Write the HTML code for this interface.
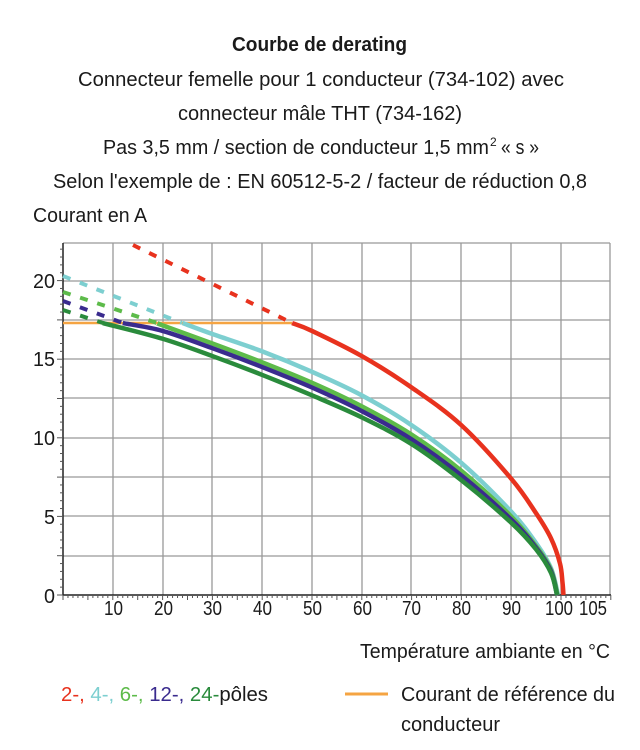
<!DOCTYPE html>
<html><head><meta charset="utf-8"><style>
html,body{margin:0;padding:0;background:#fff}
svg{display:block}
text{font-family:"Liberation Sans Narrow","Liberation Sans",sans-serif;fill:#1a1a1a;font-size:20px}
</style></head><body>
<svg width="640" height="750" viewBox="0 0 640 750" xmlns="http://www.w3.org/2000/svg">
<text x="232" y="51" font-weight="bold" textLength="175" lengthAdjust="spacingAndGlyphs">Courbe de derating</text>
<text x="78" y="86" textLength="486" lengthAdjust="spacingAndGlyphs">Connecteur femelle pour 1 conducteur (734-102) avec</text>
<text x="178" y="120" textLength="284" lengthAdjust="spacingAndGlyphs">connecteur mâle THT (734-162)</text>
<text x="103" y="154" textLength="386" lengthAdjust="spacingAndGlyphs">Pas 3,5 mm / section de conducteur 1,5 mm</text>
<text x="490" y="146" style="font-size:12px">2</text>
<text x="501" y="154" textLength="38" lengthAdjust="spacingAndGlyphs">« s »</text>
<text x="53" y="188" textLength="534" lengthAdjust="spacingAndGlyphs">Selon l'exemple de : EN 60512-5-2 / facteur de réduction 0,8</text>
<text x="33" y="222" textLength="114" lengthAdjust="spacingAndGlyphs">Courant en A</text>

<g stroke="#999" stroke-width="1.3">
<line x1="63" y1="243" x2="610" y2="243"/>
<line x1="63" y1="281" x2="610" y2="281"/>
<line x1="63" y1="320" x2="610" y2="320"/>
<line x1="63" y1="359" x2="610" y2="359"/>
<line x1="63" y1="398" x2="610" y2="398"/>
<line x1="63" y1="438" x2="610" y2="438"/>
<line x1="63" y1="477" x2="610" y2="477"/>
<line x1="63" y1="516" x2="610" y2="516"/>
<line x1="63" y1="556" x2="610" y2="556"/>
<line x1="113" y1="243" x2="113" y2="595"/>
<line x1="163" y1="243" x2="163" y2="595"/>
<line x1="212" y1="243" x2="212" y2="595"/>
<line x1="262" y1="243" x2="262" y2="595"/>
<line x1="312" y1="243" x2="312" y2="595"/>
<line x1="362" y1="243" x2="362" y2="595"/>
<line x1="411" y1="243" x2="411" y2="595"/>
<line x1="461" y1="243" x2="461" y2="595"/>
<line x1="511" y1="243" x2="511" y2="595"/>
<line x1="561" y1="243" x2="561" y2="595"/>
<line x1="610" y1="243" x2="610" y2="595"/>
</g>
<g stroke="#222" stroke-width="1.5">
<line x1="63" y1="243" x2="63" y2="595"/>
<line x1="63" y1="595" x2="611" y2="595"/>
</g>
<g id="yt" stroke="#555" stroke-width="1"></g>
<g id="xt" stroke="#555" stroke-width="1"></g>

<g>
<text x="44" y="603" textLength="11" lengthAdjust="spacingAndGlyphs">0</text>
<text x="44" y="524" textLength="11" lengthAdjust="spacingAndGlyphs">5</text>
<text x="33" y="445" textLength="22" lengthAdjust="spacingAndGlyphs">10</text>
<text x="33" y="366" textLength="22" lengthAdjust="spacingAndGlyphs">15</text>
<text x="33" y="288" textLength="22" lengthAdjust="spacingAndGlyphs">20</text>
<text x="104" y="615" textLength="19" lengthAdjust="spacingAndGlyphs">10</text>
<text x="154" y="615" textLength="19" lengthAdjust="spacingAndGlyphs">20</text>
<text x="203" y="615" textLength="19" lengthAdjust="spacingAndGlyphs">30</text>
<text x="253" y="615" textLength="19" lengthAdjust="spacingAndGlyphs">40</text>
<text x="303" y="615" textLength="19" lengthAdjust="spacingAndGlyphs">50</text>
<text x="353" y="615" textLength="19" lengthAdjust="spacingAndGlyphs">60</text>
<text x="402" y="615" textLength="19" lengthAdjust="spacingAndGlyphs">70</text>
<text x="452" y="615" textLength="19" lengthAdjust="spacingAndGlyphs">80</text>
<text x="502" y="615" textLength="19" lengthAdjust="spacingAndGlyphs">90</text>
<text x="545" y="615" textLength="28" lengthAdjust="spacingAndGlyphs">100</text>
<text x="579" y="615" textLength="28" lengthAdjust="spacingAndGlyphs">105</text>
</g>

<line x1="63" y1="323" x2="292" y2="323" stroke="#f5a442" stroke-width="2.5"/>

<g fill="none" stroke-width="4" stroke-dasharray="8,10" stroke-linecap="butt">
<path d="M133 245 L292 323" stroke="#e8321e"/>
<path d="M63 276 L182 323" stroke="#7dcfd0"/>
<path d="M63 292 L157 323" stroke="#5dbb4a"/>
<path d="M63 301 L123 323" stroke="#3a2b8e"/>
<path d="M63 310 L103 323" stroke="#2a8b3c"/>
</g>
<g fill="none" stroke-width="4.5" stroke-linejoin="round" id="curves"></g>

<text x="360" y="658" textLength="250" lengthAdjust="spacingAndGlyphs">Température ambiante en °C</text>
<text x="61" y="701" textLength="207" lengthAdjust="spacingAndGlyphs"><tspan fill="#e8321e">2-, </tspan><tspan fill="#7dcfd0">4-, </tspan><tspan fill="#5dbb4a">6-, </tspan><tspan fill="#3a2b8e">12-, </tspan><tspan fill="#2a8b3c">24-</tspan>pôles</text>
<line x1="345" y1="694" x2="388" y2="694" stroke="#f5a442" stroke-width="3"/>
<text x="401" y="701" textLength="214" lengthAdjust="spacingAndGlyphs">Courant de référence du</text>
<text x="401" y="731" textLength="99" lengthAdjust="spacingAndGlyphs">conducteur</text>
</svg>
<script>
var ns='http://www.w3.org/2000/svg';
var yt=document.getElementById('yt'),xt=document.getElementById('xt');
for(var v=0;v<=22;v+=0.5){var y=595-15.72*v;var l=document.createElementNS(ns,'line');l.setAttribute('x1',63);l.setAttribute('x2',v%2.5==0?57:60);l.setAttribute('y1',y);l.setAttribute('y2',y);yt.appendChild(l);}
for(var t=0;t<=110;t+=1){var x=63+4.98*t;if(x>611)break;var l=document.createElementNS(ns,'line');l.setAttribute('x1',x);l.setAttribute('x2',x);l.setAttribute('y1',595);l.setAttribute('y2',t%5==0?600:598);xt.appendChild(l);}
function X(t){return 63+4.98*t}function Y(v){return 595-15.72*v}
var series=[
["#e8321e",[[46,17.3],[50,16.8],[60,15.2],[70,13.2],[80,10.8],[90,7.4],[95,5.2],[98,3.6],[99.8,2],[100.3,0.8],[100.5,0]]],
["#7dcfd0",[[24,17.3],[30,16.6],[40,15.5],[50,14.2],[60,12.7],[70,10.8],[80,8.4],[90,5.3],[95,3.3],[98,1.7],[99.4,0]]],
["#5dbb4a",[[19,17.3],[20,17.15],[30,16.0],[40,14.8],[50,13.5],[60,12.0],[70,10.2],[80,7.9],[90,5.0],[95,3.1],[98,1.6],[99.3,0]]],
["#3a2b8e",[[12,17.3],[20,16.8],[30,15.7],[40,14.5],[50,13.2],[60,11.7],[70,9.9],[80,7.6],[90,4.8],[95,3.0],[98,1.5],[99.2,0]]],
["#2a8b3c",[[8,17.3],[20,16.3],[30,15.2],[40,14.0],[50,12.7],[60,11.3],[70,9.6],[80,7.3],[90,4.6],[95,2.9],[98,1.4],[99.2,0]]]];
var g=document.getElementById('curves');
series.forEach(function(s){var p=s[1].map(function(a){return [X(a[0]),Y(a[1])]});
var d='M'+p[0][0]+' '+p[0][1];
for(var i=0;i<p.length-1;i++){var p0=p[i-1]||p[i],p1=p[i],p2=p[i+1],p3=p[i+2]||p2;
d+=' C'+(p1[0]+(p2[0]-p0[0])/6)+' '+(p1[1]+(p2[1]-p0[1])/6)+' '+(p2[0]-(p3[0]-p1[0])/6)+' '+(p2[1]-(p3[1]-p1[1])/6)+' '+p2[0]+' '+p2[1];}
var e=document.createElementNS(ns,'path');e.setAttribute('d',d);e.setAttribute('stroke',s[0]);g.appendChild(e);});
</script>
</body></html>
